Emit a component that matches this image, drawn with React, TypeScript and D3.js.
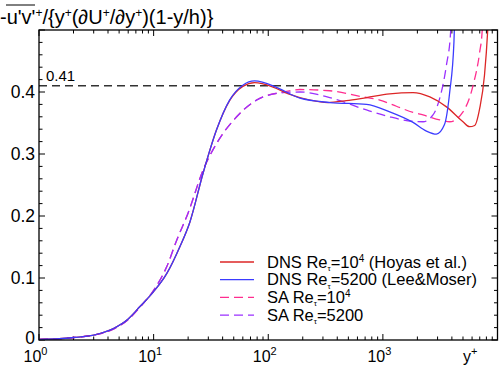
import React, { useEffect, useRef } from 'react';
import * as d3 from 'd3';

// y+ / indicator values
const dns10kY = [1, 1.5, 2, 3, 4.5, 6, 7.6, 10, 13, 16.9, 20.7, 27, 35.4, 46, 60, 76, 110, 150, 231, 330, 480, 720, 1148, 1833, 2570, 3590, 5000, 5700, 6320, 7000, 7700, 8200, 8500];
const dns10kV = [0.001, 0.002, 0.004, 0.008, 0.019, 0.034, 0.054, 0.078, 0.107, 0.15, 0.19, 0.269, 0.339, 0.386, 0.409, 0.415, 0.408, 0.397, 0.387, 0.383, 0.386, 0.391, 0.397, 0.399, 0.392, 0.376, 0.352, 0.344, 0.346, 0.374, 0.427, 0.497, 0.56];

const dns5200Y = [1, 1.5, 2, 3, 4.5, 6, 7.6, 10, 13, 16.9, 20.7, 27, 35.4, 46, 60, 76, 110, 126, 189, 344, 720, 1148, 1833, 2400, 2930, 3440, 3830, 4170, 4300];
const dns5200V = [0.001, 0.002, 0.004, 0.008, 0.019, 0.034, 0.054, 0.078, 0.107, 0.15, 0.19, 0.269, 0.339, 0.387, 0.411, 0.418, 0.41, 0.405, 0.39, 0.383, 0.38, 0.368, 0.351, 0.337, 0.332, 0.347, 0.4, 0.481, 0.56];

const sa10kY = [1, 1.5, 2, 3, 4.5, 6, 7.6, 10, 13, 15.9, 20, 27, 35.4, 53, 79, 135, 189, 344, 672, 940, 1313, 1833, 2240, 3135, 3830, 5000, 6130, 7000, 7340, 7600];
const sa10kV = [0.001, 0.002, 0.004, 0.008, 0.018, 0.033, 0.053, 0.08, 0.118, 0.161, 0.205, 0.274, 0.317, 0.36, 0.387, 0.4, 0.404, 0.402, 0.392, 0.387, 0.377, 0.367, 0.363, 0.355, 0.352, 0.368, 0.411, 0.465, 0.497, 0.56];

const sa5200Y = [1, 1.5, 2, 3, 4.5, 6, 7.6, 10, 13, 15.9, 20, 27, 35.4, 53, 79, 135, 189, 344, 720, 1148, 1610, 2240, 2737, 3135, 3590, 3900, 4000];
const sa5200V = [0.001, 0.002, 0.004, 0.008, 0.018, 0.033, 0.053, 0.08, 0.118, 0.161, 0.205, 0.274, 0.317, 0.36, 0.387, 0.399, 0.4, 0.391, 0.371, 0.36, 0.354, 0.352, 0.363, 0.39, 0.444, 0.497, 0.56];

const yTicks = [0, 0.1, 0.2, 0.3, 0.4];
const xDecades = [1, 10, 100, 1000];
const kappa = 0.41;

const colors = ['#dc2626', '#3b3bff', '#ff2d8f', '#9b30ff'];
const dashed = [false, false, true, true];

const W = 499;
const H = 367;

export default function App() {
  const svgRef = useRef<SVGSVGElement>(null);

  useEffect(() => {
    const svg = d3.select(svgRef.current);
    svg.selectAll('*').remove();

    const x = d3.scaleLog().domain([1, 10000]).range([39, 497.5]);
    const y = d3.scaleLinear().domain([0, 0.5]).range([340, 30]);
    const font = 'Liberation Sans, Arial, sans-serif';

    svg.append('defs').append('clipPath').attr('id', 'plotclip')
      .append('rect')
      .attr('x', x(1)).attr('y', y(0.5))
      .attr('width', x(10000) - x(1)).attr('height', y(0) - y(0.5));

    // ticks (inward, all four sides)
    const tk = svg.append('g').attr('stroke', '#000').attr('stroke-width', 1);
    xDecades.forEach(d => {
      for (let m = 1; m <= 9; m++) {
        const v = d * m;
        const len = m === 1 ? 6 : 3.5;
        const px = x(v);
        tk.append('line').attr('x1', px).attr('x2', px).attr('y1', y(0)).attr('y2', y(0) - len);
        tk.append('line').attr('x1', px).attr('x2', px).attr('y1', y(0.5)).attr('y2', y(0.5) + len);
      }
    });
    d3.range(0, 0.5001, 0.02).forEach(v => {
      const major = Math.abs(v * 10 - Math.round(v * 10)) < 1e-6;
      const len = major ? 6 : 3.5;
      const py = y(v);
      tk.append('line').attr('x1', x(1)).attr('x2', x(1) + len).attr('y1', py).attr('y2', py);
      tk.append('line').attr('x1', x(10000)).attr('x2', x(10000) - len).attr('y1', py).attr('y2', py);
    });

    // y labels
    yTicks.forEach(v => {
      svg.append('text')
        .attr('x', 35).attr('y', y(v) - (v === 0 ? 2 : 0)).attr('dy', '0.36em')
        .attr('text-anchor', 'end')
        .style('font-family', font).style('font-size', '17.5px')
        .text(v === 0 ? '0' : v.toFixed(1));
    });

    // x labels
    xDecades.forEach((d, i) => {
      const t = svg.append('text')
        .attr('x', x(d) - 3.5).attr('y', 362)
        .attr('text-anchor', 'middle')
        .style('font-family', font).style('font-size', '16px');
      t.append('tspan').text('10');
      t.append('tspan').attr('dy', -7).style('font-size', '11px').text(String(i));
    });
    const yl = svg.append('text').attr('x', 463).attr('y', 362)
      .style('font-family', font).style('font-size', '16px');
    yl.append('tspan').text('y');
    yl.append('tspan').attr('dy', -7).style('font-size', '11px').text('+');

    // reference line 0.41
    svg.append('line')
      .attr('x1', x(1)).attr('x2', x(10000))
      .attr('y1', y(kappa)).attr('y2', y(kappa))
      .attr('stroke', '#333').attr('stroke-width', 1.4)
      .attr('stroke-dasharray', '8,5');
    svg.append('text').attr('x', 46).attr('y', 81)
      .style('font-family', font).style('font-size', '15px')
      .text('0.41');

    // curves
    const line = d3.line<[number, number]>()
      .x(d => x(d[0])).y(d => y(d[1]))
      .curve(d3.curveMonotoneX);
    const all = [
      [dns10kY, dns10kV],
      [dns5200Y, dns5200V],
      [sa10kY, sa10kV],
      [sa5200Y, sa5200V],
    ];
    const cg = svg.append('g').attr('clip-path', 'url(#plotclip)');
    [2, 3, 0, 1].forEach(i => {
      const [xs, vs] = all[i];
      const pts = xs.map((xx, j) => [xx, vs[j]] as [number, number]);
      cg.append('path')
        .attr('d', line(pts))
        .attr('fill', 'none')
        .attr('stroke', colors[i])
        .attr('stroke-width', 1.3)
        .attr('stroke-dasharray', dashed[i] ? '9,5' : null);
    });

    // frame
    svg.append('rect')
      .attr('x', x(1)).attr('y', y(0.5))
      .attr('width', x(10000) - x(1)).attr('height', y(0) - y(0.5))
      .attr('fill', 'none').attr('stroke', '#000').attr('stroke-width', 1.3);

    // legend
    const legendRows = [
      { pre: 'DNS Re', sup: '4', mid: '=10', post: ' (Hoyas et al.)' },
      { pre: 'DNS Re', sup: '', mid: '=5200 (Lee&Moser)', post: '' },
      { pre: 'SA Re', sup: '4', mid: '=10', post: '' },
      { pre: 'SA Re', sup: '', mid: '=5200', post: '' },
    ];
    legendRows.forEach((r, i) => {
      const ly = 262 + i * 17.7;
      svg.append('line')
        .attr('x1', 220).attr('x2', 254).attr('y1', ly).attr('y2', ly)
        .attr('stroke', colors[i]).attr('stroke-width', 1.3)
        .attr('stroke-dasharray', dashed[i] ? '9,5' : null);
      const t = svg.append('text').attr('x', 267).attr('y', ly + 5.5)
        .style('font-family', font).style('font-size', '16.5px');
      t.append('tspan').text(r.pre);
      t.append('tspan').attr('dy', 3.5).style('font-size', '8px').text('\u03c4');
      t.append('tspan').attr('dy', -3.5).text(r.mid);
      if (r.sup) t.append('tspan').attr('dy', -6).style('font-size', '10px').text(r.sup);
      if (r.post) t.append('tspan').attr('dy', 6).text(r.post);
    });

    // title
    const tt = svg.append('text').attr('x', 0).attr('y', 24)
      .style('font-family', font).style('font-size', '20px');
    const sup = () => tt.append('tspan').attr('dy', -7).style('font-size', '12px').text('+');
    tt.append('tspan').text("-u'v'");
    sup();
    tt.append('tspan').attr('dy', 7).text('/{y');
    sup();
    tt.append('tspan').attr('dy', 7).text('(\u2202U');
    sup();
    tt.append('tspan').attr('dy', 7).text('/\u2202y');
    sup();
    tt.append('tspan').attr('dy', 7).text(')(1-y/h)}');
    svg.append('line').attr('x1', 6).attr('x2', 35).attr('y1', 5).attr('y2', 5)
      .attr('stroke', '#000').attr('stroke-width', 1);
  }, []);

  return (
    <div style={{ position: 'absolute', left: 0, top: 0 }}>
      <svg ref={svgRef} width={W} height={H} style={{ display: 'block', background: '#fff' }} />
    </div>
  );
}
